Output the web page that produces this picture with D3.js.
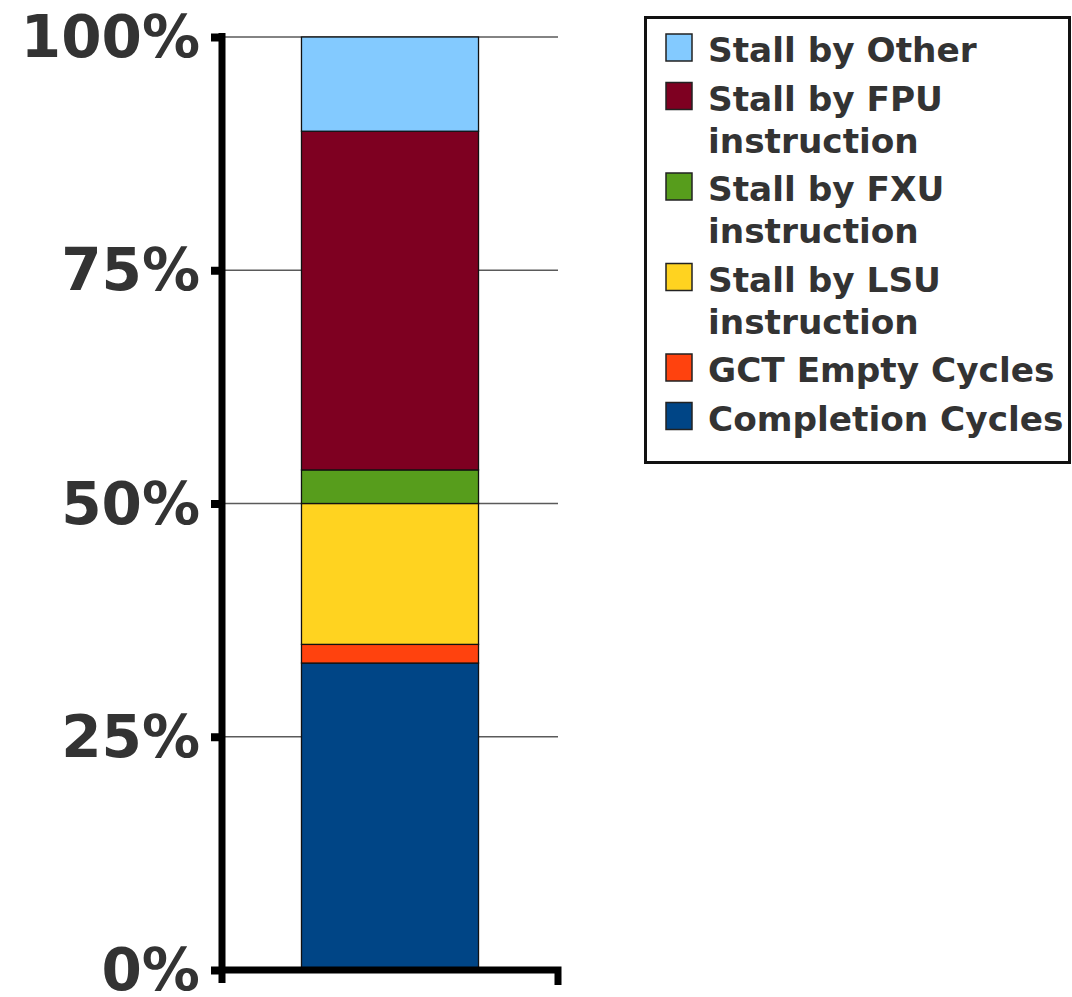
<!DOCTYPE html>
<html>
<head>
<meta charset="utf-8">
<script src="https://cdnjs.cloudflare.com/ajax/libs/d3/7.8.5/d3.min.js"></script>
<style>
  html, body { margin: 0; padding: 0; background: #fff; }
  svg { display: block; font-family: "DejaVu Sans", sans-serif; font-weight: bold; }
</style>
</head>
<body>
<svg id="chart" width="1072" height="997"></svg>
<script>
// Share of cycles per category (percent), stacked bottom to top
const categories = [
  "Completion Cycles",
  "GCT Empty Cycles",
  "Stall by LSU instruction",
  "Stall by FXU instruction",
  "Stall by FPU instruction",
  "Stall by Other"
];
const values = [32.9, 2.0, 15.1, 3.6, 36.3, 10.1];
const colors = ["#004586", "#ff420e", "#ffd320", "#579d1c", "#7e0021", "#83caff"];
// Legend text, wrapped as in the legend box (top entry first)
const legendLines = [
  ["Stall by Other"],
  ["Stall by FPU", "instruction"],
  ["Stall by FXU", "instruction"],
  ["Stall by LSU", "instruction"],
  ["GCT Empty Cycles"],
  ["Completion Cycles"]
];
const yTicks = [0, 25, 50, 75, 100];
const barGroups = ["run"];

const svg = d3.select("#chart");

const plot = { left: 222, right: 558, top: 37, bottom: 970 };

const y = d3.scaleLinear().domain([0, 100]).range([plot.bottom, plot.top]);
const x = d3.scaleBand().domain(barGroups).range([plot.left, plot.right])
  .paddingInner(0).paddingOuter(0.449);

// Grid lines behind the bar
svg.append("g")
  .selectAll("line")
  .data(yTicks.filter(t => t > 0))
  .join("line")
  .attr("x1", plot.left).attr("x2", plot.right)
  .attr("y1", d => y(d)).attr("y2", d => y(d))
  .attr("stroke", "#5a5a5a")
  .attr("stroke-width", 1.5);

// Stacked segments
const row = { run: 0 };
categories.forEach((c, i) => { row[c] = values[i]; });
const stack = d3.stack().keys(categories)([row]);

svg.append("g")
  .selectAll("rect")
  .data(stack)
  .join("rect")
  .attr("x", x("run"))
  .attr("width", x.bandwidth())
  .attr("y", d => y(d[0][1]))
  .attr("height", d => y(d[0][0]) - y(d[0][1]))
  .attr("fill", (d, i) => colors[i])
  .attr("stroke", "#111")
  .attr("stroke-width", 1.3);

// Y axis: ticks and labels
const yAxis = d3.axisLeft(y)
  .tickValues(yTicks)
  .tickFormat(d => d + "%")
  .tickSizeInner(11)
  .tickSizeOuter(0)
  .tickPadding(11);

const gy = svg.append("g")
  .attr("transform", `translate(${plot.left},0)`)
  .call(yAxis);
gy.select(".domain").remove();
gy.selectAll(".tick line")
  .attr("stroke", "#000")
  .attr("stroke-width", 8);
gy.selectAll(".tick text")
  .attr("fill", "#333")
  .attr("font-size", 58)
  .attr("font-weight", "bold")
  .attr("font-family", "DejaVu Sans")
  .attr("dy", "0.34em");

// Axis lines
const axisG = svg.append("g").attr("stroke", "#000").attr("stroke-width", 7).attr("fill", "none");
axisG.append("line")
  .attr("x1", plot.left).attr("x2", plot.left)
  .attr("y1", y(100) - 4).attr("y2", plot.bottom + 13);
axisG.append("path")
  .attr("d", `M${plot.left},${plot.bottom} H${plot.right} V${plot.bottom + 15}`)
  .attr("stroke-linejoin", "miter");

// Legend
const legend = svg.append("g");
legend.append("rect")
  .attr("x", 645.5).attr("y", 17.5)
  .attr("width", 424).attr("height", 445)
  .attr("fill", "#fff")
  .attr("stroke", "#111")
  .attr("stroke-width", 3);

let baseline = 62;
legendLines.forEach((lines, i) => {
  const color = colors[categories.length - 1 - i];
  legend.append("rect")
    .attr("x", 666).attr("y", baseline - 28)
    .attr("width", 26).attr("height", 27)
    .attr("fill", color)
    .attr("stroke", "#222")
    .attr("stroke-width", 1.5);
  const t = legend.append("text")
    .attr("fill", "#333")
    .attr("font-size", 34.3)
    .attr("font-weight", "bold");
  lines.forEach((ln, j) => {
    t.append("tspan")
      .attr("x", 708)
      .attr("y", baseline + j * 42)
      .text(ln);
  });
  baseline += (lines.length - 1) * 42 + 48.5;
});
</script>
</body>
</html>
